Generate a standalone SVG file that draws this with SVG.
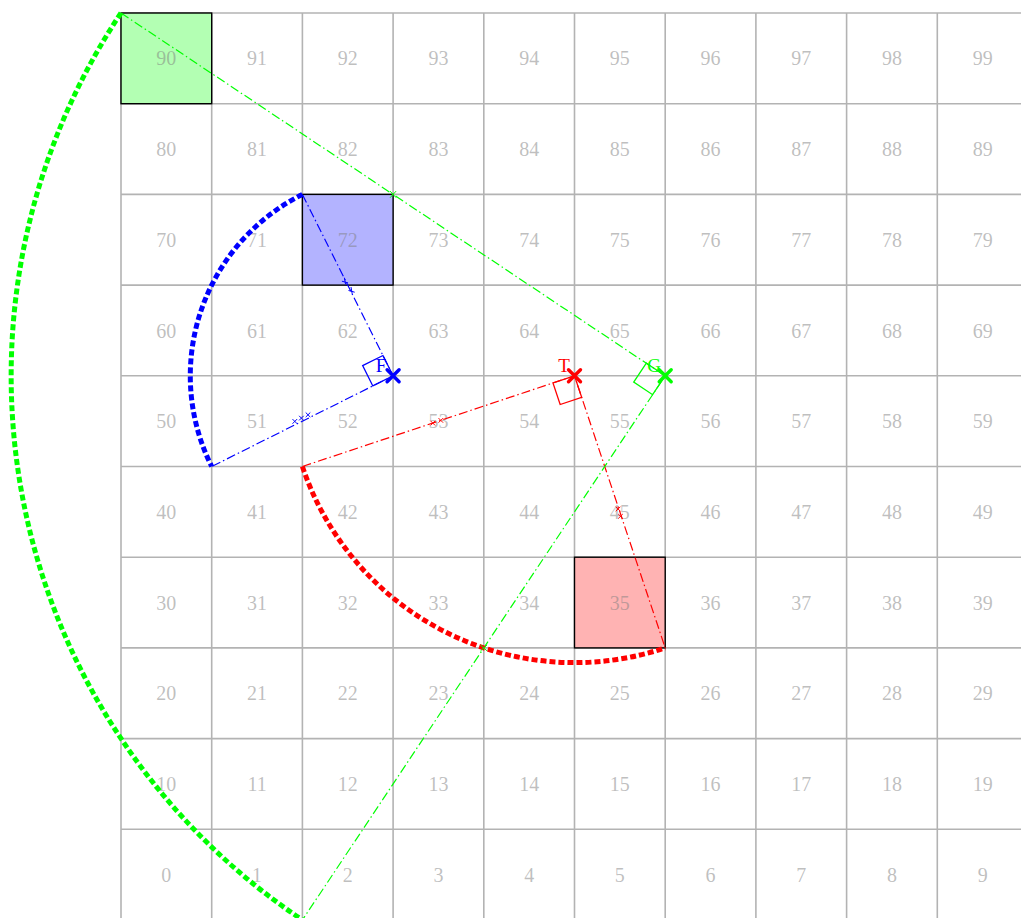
<svg xmlns="http://www.w3.org/2000/svg" width="1021" height="918" viewBox="0 0 1021 918">
<style>
.grid line{stroke:#b3b3b3;stroke-width:1.6}
.num{font-family:"Liberation Serif","DejaVu Serif",serif;font-size:20px;fill:#7f7f7f;fill-opacity:0.5;text-anchor:middle}
.cellbox{stroke:#000;stroke-width:1.4}
.ray{fill:none;stroke-width:1.2;stroke-dasharray:9 3 1.5 3}
.arc{fill:none;stroke-width:5;stroke-dasharray:6 3}
.ra{fill:none;stroke-width:1.3}
.agent{stroke-width:3.4;stroke-linecap:round}
.tick{stroke-width:1}
.lbl{font-family:"Liberation Serif","DejaVu Serif",serif;font-size:19px;text-anchor:middle}
.b{stroke:#0000ff}.r{stroke:#ff0000}.g{stroke:#00ff00}
</style>
<rect width="1021" height="918" fill="#fff"/>
<g id="grid" class="grid">
<line x1="121" y1="13" x2="121" y2="918"/>
<line x1="211.7" y1="13" x2="211.7" y2="918"/>
<line x1="302.4" y1="13" x2="302.4" y2="918"/>
<line x1="393.1" y1="13" x2="393.1" y2="918"/>
<line x1="483.8" y1="13" x2="483.8" y2="918"/>
<line x1="574.5" y1="13" x2="574.5" y2="918"/>
<line x1="665.2" y1="13" x2="665.2" y2="918"/>
<line x1="755.9" y1="13" x2="755.9" y2="918"/>
<line x1="846.6" y1="13" x2="846.6" y2="918"/>
<line x1="937.3" y1="13" x2="937.3" y2="918"/>
<line x1="121" y1="13" x2="1021" y2="13"/>
<line x1="121" y1="103.7" x2="1021" y2="103.7"/>
<line x1="121" y1="194.4" x2="1021" y2="194.4"/>
<line x1="121" y1="285.1" x2="1021" y2="285.1"/>
<line x1="121" y1="375.8" x2="1021" y2="375.8"/>
<line x1="121" y1="466.5" x2="1021" y2="466.5"/>
<line x1="121" y1="557.2" x2="1021" y2="557.2"/>
<line x1="121" y1="647.9" x2="1021" y2="647.9"/>
<line x1="121" y1="738.6" x2="1021" y2="738.6"/>
<line x1="121" y1="829.3" x2="1021" y2="829.3"/>
</g>
<g id="cell90"><rect class="cellbox" x="121" y="13" width="90.7" height="90.7" fill="#b3ffb3"/></g>
<g id="cell72"><rect class="cellbox" x="302.4" y="194.4" width="90.7" height="90.7" fill="#b3b3ff"/></g>
<g id="cell35"><rect class="cellbox" x="574.5" y="557.2" width="90.7" height="90.7" fill="#ffb3b3"/></g>
<g id="numbers" class="num">
<text x="166.35" y="65.4">90</text><text x="257.05" y="65.4">91</text><text x="347.75" y="65.4">92</text><text x="438.45" y="65.4">93</text><text x="529.15" y="65.4">94</text><text x="619.85" y="65.4">95</text><text x="710.55" y="65.4">96</text><text x="801.25" y="65.4">97</text><text x="891.95" y="65.4">98</text><text x="982.65" y="65.4">99</text>
<text x="166.35" y="156.1">80</text><text x="257.05" y="156.1">81</text><text x="347.75" y="156.1">82</text><text x="438.45" y="156.1">83</text><text x="529.15" y="156.1">84</text><text x="619.85" y="156.1">85</text><text x="710.55" y="156.1">86</text><text x="801.25" y="156.1">87</text><text x="891.95" y="156.1">88</text><text x="982.65" y="156.1">89</text>
<text x="166.35" y="246.8">70</text><text x="257.05" y="246.8">71</text><text x="347.75" y="246.8">72</text><text x="438.45" y="246.8">73</text><text x="529.15" y="246.8">74</text><text x="619.85" y="246.8">75</text><text x="710.55" y="246.8">76</text><text x="801.25" y="246.8">77</text><text x="891.95" y="246.8">78</text><text x="982.65" y="246.8">79</text>
<text x="166.35" y="337.5">60</text><text x="257.05" y="337.5">61</text><text x="347.75" y="337.5">62</text><text x="438.45" y="337.5">63</text><text x="529.15" y="337.5">64</text><text x="619.85" y="337.5">65</text><text x="710.55" y="337.5">66</text><text x="801.25" y="337.5">67</text><text x="891.95" y="337.5">68</text><text x="982.65" y="337.5">69</text>
<text x="166.35" y="428.2">50</text><text x="257.05" y="428.2">51</text><text x="347.75" y="428.2">52</text><text x="438.45" y="428.2">53</text><text x="529.15" y="428.2">54</text><text x="619.85" y="428.2">55</text><text x="710.55" y="428.2">56</text><text x="801.25" y="428.2">57</text><text x="891.95" y="428.2">58</text><text x="982.65" y="428.2">59</text>
<text x="166.35" y="518.9">40</text><text x="257.05" y="518.9">41</text><text x="347.75" y="518.9">42</text><text x="438.45" y="518.9">43</text><text x="529.15" y="518.9">44</text><text x="619.85" y="518.9">45</text><text x="710.55" y="518.9">46</text><text x="801.25" y="518.9">47</text><text x="891.95" y="518.9">48</text><text x="982.65" y="518.9">49</text>
<text x="166.35" y="609.6">30</text><text x="257.05" y="609.6">31</text><text x="347.75" y="609.6">32</text><text x="438.45" y="609.6">33</text><text x="529.15" y="609.6">34</text><text x="619.85" y="609.6">35</text><text x="710.55" y="609.6">36</text><text x="801.25" y="609.6">37</text><text x="891.95" y="609.6">38</text><text x="982.65" y="609.6">39</text>
<text x="166.35" y="700.3">20</text><text x="257.05" y="700.3">21</text><text x="347.75" y="700.3">22</text><text x="438.45" y="700.3">23</text><text x="529.15" y="700.3">24</text><text x="619.85" y="700.3">25</text><text x="710.55" y="700.3">26</text><text x="801.25" y="700.3">27</text><text x="891.95" y="700.3">28</text><text x="982.65" y="700.3">29</text>
<text x="166.35" y="791">10</text><text x="257.05" y="791">11</text><text x="347.75" y="791">12</text><text x="438.45" y="791">13</text><text x="529.15" y="791">14</text><text x="619.85" y="791">15</text><text x="710.55" y="791">16</text><text x="801.25" y="791">17</text><text x="891.95" y="791">18</text><text x="982.65" y="791">19</text>
<text x="166.35" y="881.7">0</text><text x="257.05" y="881.7">1</text><text x="347.75" y="881.7">2</text><text x="438.45" y="881.7">3</text><text x="529.15" y="881.7">4</text><text x="619.85" y="881.7">5</text><text x="710.55" y="881.7">6</text><text x="801.25" y="881.7">7</text><text x="891.95" y="881.7">8</text><text x="982.65" y="881.7">9</text>
</g>
<g id="connectors">
<path class="ray b" d="M302.4,194.4 L393.1,375.8 L211.7,466.5"/>
<path class="ray r" d="M302.4,466.5 L574.5,375.8 L665.2,647.9"/>
<path class="ray g" d="M121,13 L665.2,375.8 L302.4,920"/>
<path class="arc b" d="M302.4,194.4 A202.8,202.8 0 0 0 211.7,466.5"/>
<path class="arc r" d="M302.4,466.5 A286.8,286.8 0 0 0 665.2,647.9"/>
<path class="arc g" d="M121,13 A654.05,654.05 0 0 0 302.4,920"/>
<g class="tick b">
<path d="M341.9,281.2 l6.2,1.7 M344.4,277.7 l1.2,6.8"/>
<path d="M348.5,290.5 l6.2,1.7 M351,287 l1.2,6.8"/>
<path d="M292.5,423.7 l4.6,-4.6 M292.5,419.1 l4.6,4.6"/>
<path d="M299.1,420.4 l4.6,-4.6 M299.1,415.8 l4.6,4.6"/>
<path d="M305.7,417.1 l4.6,-4.6 M305.7,412.5 l4.6,4.6"/>
</g>
<g class="tick r">
<path d="M430.5,425.4 l4.6,-4.6 M430.5,420.8 l4.6,4.6"/>
<path d="M438.5,422.7 l4.6,-4.6 M438.5,418.1 l4.6,4.6"/>
<path d="M615.8,506.7 l4.6,4.6 M615.8,511.3 l4.6,-4.6"/>
<path d="M618.2,514 l4.6,4.6 M618.2,518.6 l4.6,-4.6"/>
</g>
<g class="tick g">
<path d="M390.1,191.1 l6,6.6 M390.1,197.7 l6,-6.6"/>
<path d="M480.5,644.9 l6.6,6 M480.5,650.9 l6.6,-6"/>
</g>
</g>
<g id="agentF">
<path class="ra b" d="M393.1,375.8 L382.95,355.5 L362.65,365.65 L372.8,385.95 Z"/>
<path class="agent b" d="M387.1,369.8 l12,12 M387.1,381.8 l12,-12"/>
<text class="lbl" x="381" y="372" fill="#0000ff">F</text>
</g>
<g id="agentT">
<path class="ra r" d="M574.5,375.8 L552.97,382.98 L560.15,404.51 L581.68,397.33 Z"/>
<path class="agent r" d="M568.5,369.8 l12,12 M568.5,381.8 l12,-12"/>
<text class="lbl" x="564" y="372" fill="#ff0000">T</text>
</g>
<g id="agentG">
<path class="ra g" d="M665.2,375.8 L646.31,363.21 L633.72,382.1 L652.61,394.69 Z"/>
<path class="agent g" d="M659.2,369.8 l12,12 M659.2,381.8 l12,-12"/>
<text class="lbl" x="654" y="372" fill="#00ff00">G</text>
</g>
</svg>
